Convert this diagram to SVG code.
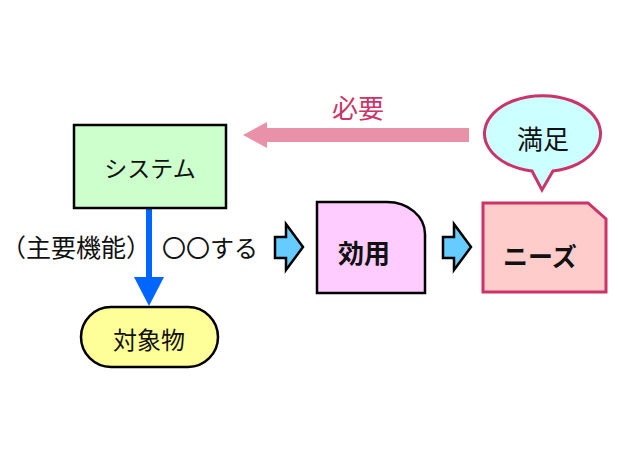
<svg xmlns="http://www.w3.org/2000/svg" width="620" height="465" viewBox="0 0 620 465">
<style>
text{font-family:"Noto Sans CJK JP","Noto Sans",sans-serif;font-size:24px;fill:#111;text-anchor:middle;dominant-baseline:central}
.node{stroke:#000;stroke-width:2.5}
.red{stroke:#cc3366;stroke-width:3}
.blk{fill:#66ccff;stroke:#000;stroke-width:2.5;stroke-linejoin:miter}
.b{font-weight:bold;font-size:25px}
.l{font-size:26px}
</style>
<rect width="620" height="465" fill="#fff"/>
<g id="connectors">
<line x1="149" y1="208" x2="149" y2="279" stroke="#0066ff" stroke-width="6"/>
<polygon points="134,277 164,277 149,306" fill="#0066ff"/>
<polygon points="469,128 267,128 267,122 243,135 267,148 267,142 469,142" fill="#e891a8"/>
<polygon class="blk" points="275,237 286,237 286,224 303,247 286,270 286,258 275,258"/>
<polygon class="blk" points="443,237 454,237 454,224 471,247 454,270 454,258 443,258"/>
</g>
<text class="l" x="358" y="106" style="fill:#cc3366">必要</text>
<text x="76" y="246" style="font-size:25px">（主要機能）</text>
<text x="210" y="246">〇〇する</text>
<g id="system">
<rect class="node" x="74" y="125" width="152" height="83" fill="#ccffcc"/>
<text x="150" y="167" style="font-size:23px">システム</text>
</g>
<g id="object">
<rect class="node" x="81" y="307" width="137" height="60" rx="30" fill="#ffff99"/>
<text x="149" y="338">対象物</text>
</g>
<g id="utility">
<path class="node" d="M317,202 H387 A38,32 0 0 1 425,234 V293 H317 Z" fill="#ffccff"/>
<text class="b" x="364" y="251" style="font-size:26px">効用</text>
</g>
<g id="needs">
<path class="red" d="M483,203 H588 L606,219 V292 H483 Z" fill="#ffcccc"/>
<text class="b" x="540" y="255">ニーズ</text>
</g>
<g id="satisfaction">
<path class="red" d="M532,171 A58,38 0 1 1 553,171 L542,190 Z" fill="#ccffff"/>
<text class="l" x="543" y="137">満足</text>
</g>
</svg>
